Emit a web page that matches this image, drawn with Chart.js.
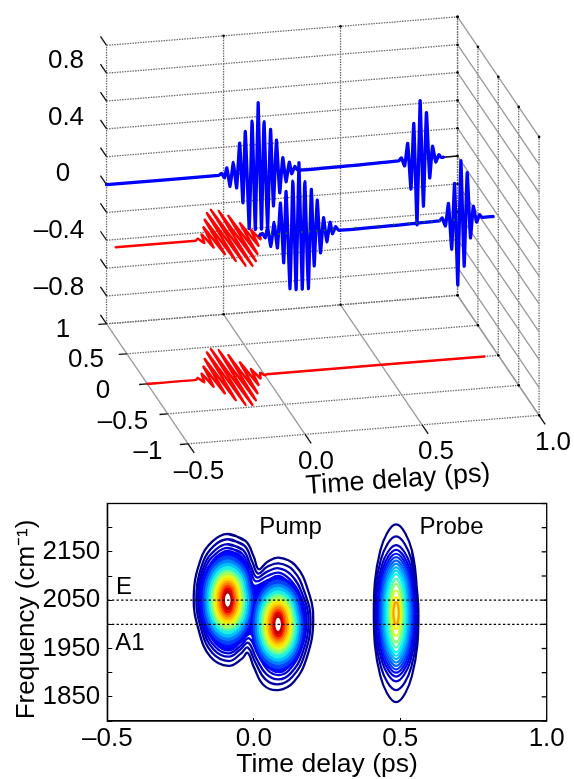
<!DOCTYPE html>
<html><head><meta charset="utf-8">
<style>html,body{margin:0;padding:0;background:#fff}canvas{display:block}</style>
<script src="https://cdn.jsdelivr.net/npm/chart.js@4"></script>
</head><body>
<canvas id="top" width="574" height="500"></canvas>
<canvas id="bottom" width="574" height="279"></canvas>
<script>
// ---------- upper panel: values ----------
const timeTicks = [-0.5, 0, 0.5, 1];
const depthTicks = [-1, -0.5, 0, 0.5, 1];
const ampTicks = [-1, -0.8, -0.6, -0.4, -0.2, 0, 0.2, 0.4, 0.6, 0.8, 1];
const pumpRedTime = [-0.292,-0.279,-0.265,-0.252,-0.239,-0.225,-0.212,-0.199,-0.186,-0.172,-0.159,-0.146,-0.133,-0.119,-0.106,-0.093,-0.080,-0.066,-0.053,-0.040,-0.027,-0.013,0.000,0.010];
const pumpRedDepth = [0,0.03,-0.05,0.09,-0.13,0.20,-0.25,0.32,-0.37,0.42,-0.46,0.47,-0.47,0.44,-0.40,0.35,-0.29,0.22,-0.16,0.10,-0.06,0.03,-0.015,0];
const pumpBlueTime = [-0.020,-0.008,0.004,0.014,0.028,0.042,0.056,0.069,0.083,0.093,0.110,0.122,0.136,0.148,0.162,0.173,0.188,0.201,0.213,0.226,0.240,0.253,0.267,0.281,0.291,0.305,0.318];
const pumpBlueAmp = [0,0.014,-0.02,0.05,-0.085,0.085,-0.10,0.22,-0.21,0.30,-0.40,0.37,-0.41,0.50,-0.41,0.36,-0.41,0.30,-0.25,0.22,-0.16,0.09,-0.085,0.055,-0.03,0.02,-0.01];
const probeTime = [0.748,0.760,0.774,0.787,0.801,0.813,0.827,0.840,0.854,0.867,0.881,0.893,0.907,0.920,0.930];
const probeAmp = [0,0.02,-0.04,0.12,-0.21,0.26,-0.47,0.42,-0.34,0.33,-0.14,0.085,-0.03,0.02,0];
const greenDotTime = [0.03,0.062,0.095,0.161,0.193,0.225,0.257,0.293,0.39,0.488,0.553,0.619,0.651,0.683,0.716,0.75,0.811];
const ampLabels = ['0.8','0.4','0','–0.4','–0.8'];
const depthLabels = ['1','0.5','0','–0.5','–1'];
const timeLabels = ['–0.5','0.0','0.5','1.0'];

// ---------- lower panel: contour vertices ----------
const timeAxisLabels = {'-0.5':'–0.5','0':'0.0','0.5':'0.5','1':'1.0'};
const freqAxisLabels = [1850,1950,2050,2150];
const modeLines = [2050,2000];
const lobeCentres = [[-0.089,2050],[0.083,2000]];
const probeCentre = [0.486,2023];
const mergedContours = [
[-.089,2187,-.029,2173,0,2140,.017,2114,.046,2129,.085,2138,.142,2122,.185,2071,.203,2009,.182,1933,.137,1881,.085,1864,.034,1874,0,1912,-.021,1941,-.040,1929,-.086,1914,-.148,1933,-.188,1988,-.205,2057,-.182,2133,-.142,2171],
[-.089,2176,-.032,2163,-.005,2129,.015,2105,.046,2119,.085,2126,.134,2112,.173,2067,.194,2009,.173,1936,.131,1891,.085,1876,.040,1886,.006,1920,-.021,1952,-.043,1940,-.085,1924,-.142,1941,-.179,1989,-.196,2057,-.173,2129,-.137,2162],
[-.089,2166,-.037,2154,-.009,2119,.011,2097,.046,2109,.085,2116,.128,2102,.165,2064,.187,2009,.166,1940,.125,1898,.085,1886,.043,1897,.009,1929,-.019,1962,-.046,1948,-.085,1933,-.137,1948,-.173,1991,-.190,2057,-.169,2122,-.131,2154],
[-.089,2158,-.041,2147,-.011,2111,.007,2089,.046,2100,.085,2107,.123,2093,.159,2060,.180,2009,.159,1943,.120,1905,.085,1895,.048,1905,.014,1938,-.016,1971,-.046,1955,-.085,1940,-.131,1953,-.168,1993,-.186,2057,-.164,2118,-.128,2147],
[-.089,2152,-.043,2141,-.014,2104,.002,2080,.046,2091,.085,2100,.118,2086,.154,2058,.174,2009,.155,1947,.116,1911,.085,1901,.051,1912,.016,1947,-.011,1980,-.046,1962,-.085,1946,-.128,1959,-.163,1995,-.182,2057,-.159,2113,-.125,2141]
];
const mergedColours = ['#00008c','#0000a4','#0000c0','#0000dc','#0000f0'];
const lobeContours = [
[.0911,0,.0644,69,0,98,-.0644,69,-.0911,0,-.0644,-69,0,-98,.0644,-69],
[.0843,0,.0596,64,0,91,-.0596,64,-.0843,0,-.0596,-64,0,-91,.0596,-64],
[.0775,0,.0548,59,0,83,-.0548,59,-.0775,0,-.0548,-59,0,-83,.0548,-59],
[.0706,0,.0499,54,0,76,-.0499,54,-.0706,0,-.0499,-54,0,-76,.0499,-54],
[.0638,0,.0451,49,0,69,-.0451,49,-.0638,0,-.0451,-49,0,-69,.0451,-49],
[.0570,0,.0403,44,0,62,-.0403,44,-.0570,0,-.0403,-44,0,-62,.0403,-44],
[.0513,0,.0363,40,0,57,-.0363,40,-.0513,0,-.0363,-40,0,-57,.0363,-40],
[.0456,0,.0322,36,0,51,-.0322,36,-.0456,0,-.0322,-36,0,-51,.0322,-36],
[.0399,0,.0282,33,0,46,-.0282,33,-.0399,0,-.0282,-33,0,-46,.0282,-33],
[.0342,0,.0242,28,0,40,-.0242,28,-.0342,0,-.0242,-28,0,-40,.0242,-28],
[.0285,0,.0202,25,0,35,-.0202,25,-.0285,0,-.0202,-25,0,-35,.0202,-25],
[.0228,0,.0161,21,0,30,-.0161,21,-.0228,0,-.0161,-21,0,-30,.0161,-21],
[.0171,0,.0121,18,0,25,-.0121,18,-.0171,0,-.0121,-18,0,-25,.0121,-18],
[.0114,0,.0081,13,0,19,-.0081,13,-.0114,0,-.0081,-13,0,-19,.0081,-13],
[.0068,0,.0048,8,0,12,-.0048,8,-.0068,0,-.0048,-8,0,-12,.0048,-8]
];
const lobeColours = ['#0008ff','#0040ff','#0080ff','#00c0ff','#20f0e0','#60ffa0','#a0ff60','#e0ff20','#ffe000','#ffb000','#ff8000','#ff4000','#ee0000','#b00000','#ffffff'];
const probeContours = [
[.0763,0,.0539,130,0,184,-.0539,130,-.0763,0,-.0539,-130,0,-184,.0539,-130],
[.0729,0,.0515,112,0,159,-.0515,112,-.0729,0,-.0515,-112,0,-159,.0515,-112],
[.0683,0,.0483,100,0,141,-.0483,100,-.0683,0,-.0483,-100,0,-141,.0483,-100],
[.0638,0,.0451,93,0,131,-.0451,93,-.0638,0,-.0451,-93,0,-131,.0451,-93],
[.0592,0,.0419,87,0,123,-.0419,87,-.0592,0,-.0419,-87,0,-123,.0419,-87],
[.0547,0,.0387,82,0,116,-.0387,82,-.0547,0,-.0387,-82,0,-116,.0387,-82],
[.0501,0,.0354,77,0,109,-.0354,77,-.0501,0,-.0354,-77,0,-109,.0354,-77],
[.0456,0,.0322,72,0,102,-.0322,72,-.0456,0,-.0322,-72,0,-102,.0322,-72],
[.0410,0,.0290,67,0,95,-.0290,67,-.0410,0,-.0290,-67,0,-95,.0290,-67],
[.0364,0,.0257,62,0,88,-.0257,62,-.0364,0,-.0257,-62,0,-88,.0257,-62],
[.0319,0,.0226,57,0,81,-.0226,57,-.0319,0,-.0226,-57,0,-81,.0226,-57],
[.0262,0,.0185,50,0,71,-.0185,50,-.0262,0,-.0185,-50,0,-71,.0185,-50],
[.0216,0,.0153,43,0,61,-.0153,43,-.0216,0,-.0153,-43,0,-61,.0153,-43],
[.0171,0,.0121,33,0,47,-.0121,33,-.0171,0,-.0121,-33,0,-47,.0121,-33],
[.0125,0,.0088,23,0,33,-.0088,23,-.0125,0,-.0088,-23,0,-33,.0088,-23],
[.0091,0,.0064,16,0,23,-.0064,16,-.0091,0,-.0064,-16,0,-23,.0064,-16]
];
const probeColours = ['#00008c','#0000a8','#0000c8','#0000e8','#0010ff','#0038ff','#0060ff','#0088ff','#00b0ff','#00d8ff','#10f8e8','#50ffb0','#90ff70','#d0ff30','#ffe800','#ff9c00'];

// ---------- oblique projection of the 3-D box ----------
const FONT = 'Liberation Sans, Arial, sans-serif';
const view = {ox:104, oy:325, tx:237.3, ty:19.3, dx:41.35, dy:61, ay:141.5};
function project(t, d, a){
  return {x:view.ox+(t+0.5)*view.tx+(1-d)*view.dx, y:view.oy-(t+0.5)*view.ty+(1-d)*view.dy-(a+1)*view.ay};
}
const topPaint = [];
function seg3(p, q, color, width, dash){
  topPaint.push({data:[project(...p),project(...q)],showLine:true,borderColor:color,borderWidth:width,borderDash:dash||[],pointRadius:0,clip:false});
}
const DOT = '#6e6e6e', SOLID = '#999999', dots=[1.5,1.1];
// back wall
timeTicks.forEach(t=>seg3([t,1,-1],[t,1,1],DOT,1.3,dots));
ampTicks.forEach(a=>seg3([-0.5,1,a],[1,1,a],DOT,1.3,dots));
// right wall
depthTicks.forEach(d=>seg3([1,d,-1],[1,d,1],DOT,1.3,dots));
ampTicks.forEach(a=>seg3([1,1,a],[1,-1,a],SOLID,1.3));
// floor
depthTicks.forEach(d=>seg3([-0.5,d,-1],[1,d,-1],DOT,1.3,dots));
timeTicks.forEach(t=>seg3([t,1,-1],[t,-1,-1],SOLID,1.3));
// axis tick marks
ampTicks.forEach(a=>seg3([-0.5,1,a],[-0.5,1.15,a],'#111',1.3));
depthTicks.forEach(d=>seg3([-0.5,d,-1],[-0.535,d,-1],'#111',1.3));
timeTicks.forEach(t=>seg3([t,-1,-1],[t,-1.15,-1],'#111',1.3));
// small black corner dots
const cornerDots=[];
timeTicks.slice(1).forEach(t=>{cornerDots.push(project(t,1,1),project(t,1,-1));});
ampTicks.forEach(a=>cornerDots.push(project(1,1,a)));
depthTicks.slice(0,4).forEach(d=>{cornerDots.push(project(1,d,1),project(1,d,-1));});
topPaint.push({data:cornerDots,showLine:false,pointRadius:1.3,pointBackgroundColor:'#000',pointBorderWidth:0,clip:false});
// black end of the back-wall zero line
seg3([0.94,1,0],[1,1,0],'#111',1.6);

function trace(times, depths, amps, color, width){
  topPaint.push({data:times.map((t,i)=>project(t,depths(i),amps(i))),showLine:true,borderColor:color,borderWidth:width,
    tension:0.12,borderJoinStyle:'round',borderCapStyle:'round',pointRadius:0,clip:false});
}
const backT=[-0.5,...pumpBlueTime,...probeTime,0.94], backA=[0,...pumpBlueAmp,...probeAmp,0];
trace(backT,()=>1,i=>backA[i],'#0000ff',3.3);
const midRedT=[-0.635,...pumpRedTime], midRedD=[0,...pumpRedDepth];
trace(midRedT,i=>midRedD[i],()=>0,'#ff0000',2.5);
const midT=[...pumpBlueTime,...probeTime,0.978], midA=[...pumpBlueAmp,...probeAmp,0];
trace(midT,()=>0,i=>midA[i],'#0000ff',3.3);
topPaint.push({data:greenDotTime.map(t=>project(t,0,0)),showLine:false,pointRadius:1,pointBackgroundColor:'#0a7a0a',pointBorderWidth:0,clip:false});
const floorT=[-0.5,...pumpRedTime,0.94], floorD=[0,...pumpRedDepth,0];
trace(floorT,i=>floorD[i],()=>-1,'#ff0000',2.5);

const topText = {id:'topText',afterDraw(c){
  const g=c.ctx; g.save(); g.fillStyle='#000'; g.textAlign='center'; g.textBaseline='middle'; g.font='26px '+FONT;
  const put=(s,x,y)=>g.fillText(s,x,y+1);
  ampLabels.forEach((s,i)=>put(s,[66,66,63,59,59][i],[60,117,173,230,287][i]));
  depthLabels.forEach((s,i)=>put(s,[63,86,103,123,148][i],[329,359,390,421,451][i]));
  timeLabels.forEach((s,i)=>put(s,[199,316,436,553][i],[471,461,451,442][i]));
  g.translate(398,480); g.rotate(-4*Math.PI/180); g.font='27px '+FONT; g.fillText('Time delay (ps)',0,0);
  g.restore();
}};
new Chart(document.getElementById('top'),{type:'scatter',
  data:{datasets:topPaint.slice().reverse()},
  plugins:[topText],
  options:{responsive:false,animation:false,events:[],layout:{padding:0},
    plugins:{legend:{display:false},tooltip:{enabled:false}},
    scales:{x:{type:'linear',min:0,max:574,display:false},y:{type:'linear',min:0,max:500,reverse:true,display:false}}}
});

// ---------- lower panel ----------
function loop(flat,c){
  const pts=[];const o=c||[0,0];
  for(let i=0;i<flat.length;i+=2)pts.push({x:o[0]+flat[i],y:o[1]+flat[i+1]});
  pts.push(pts[0],pts[1]);
  return pts;
}
const botPaint=[];
function contour(flat,c,color,tension,filled,width){
  const ds={data:loop(flat,c),showLine:true,borderColor:color,borderWidth:width,tension,pointRadius:0,borderJoinStyle:'round'};
  if(filled){ds.fill='shape';ds.backgroundColor=filled;}
  botPaint.push(ds);
}
mergedContours.forEach((f,i)=>contour(f,null,mergedColours[i],0.42,i===4?'#0000f0':null,2.3));
lobeCentres.forEach(c=>lobeContours.forEach((f,i)=>contour(f,c,lobeColours[i],0.38,lobeColours[i],1.6)));
probeContours.forEach((f,i)=>contour(f,probeCentre,probeColours[i],0.38,i===15?'#ffff80':null,2.2));
modeLines.forEach(v=>botPaint.push({data:[{x:-0.5,y:v},{x:1,y:v}],showLine:true,borderColor:'#000',borderWidth:1.3,borderDash:[2.4,2.2],pointRadius:0}));

const frame={id:'frame',afterDraw(c){
  const g=c.ctx,a=c.chartArea,y=c.scales.y; g.save(); g.strokeStyle='#000'; g.lineWidth=1.3;
  g.strokeRect(a.left,a.top,a.right-a.left,a.bottom-a.top);
  y.ticks.forEach(t=>{const p=y.getPixelForValue(t.value);g.beginPath();g.moveTo(a.right,p);g.lineTo(a.right-5,p);g.stroke();});
  g.fillStyle='#000'; g.textAlign='center'; g.textBaseline='middle'; g.font='24px '+FONT;
  g.fillText('Pump',290.5,27.5); g.fillText('Probe',451.5,27.5); g.fillText('E',124,87); g.fillText('A1',130,143.5);
  g.restore();
}};
new Chart(document.getElementById('bottom'),{type:'scatter',
  data:{datasets:botPaint.slice().reverse()},
  plugins:[frame],
  options:{responsive:false,animation:false,events:[],
    layout:{autoPadding:false,padding:{left:0,right:27.3,top:3.5,bottom:0}},
    plugins:{legend:{display:false},tooltip:{enabled:false}},
    scales:{
      x:{type:'linear',min:-0.5,max:1,
        afterFit(s){s.height=58;s.paddingLeft=0;s.paddingRight=0;},
        ticks:{stepSize:0.5,autoSkip:false,maxRotation:0,color:'#000',font:{family:FONT,size:26},padding:5,callback:v=>timeAxisLabels[String(v)]||''},
        grid:{drawOnChartArea:false,drawTicks:true,tickLength:-3,tickColor:'#000',tickWidth:1},
        border:{display:true,color:'#000',width:1.3},
        title:{display:true,text:'Time delay (ps)',color:'#000',font:{family:FONT,size:26.5,lineHeight:1.1},padding:{top:0,bottom:0}}},
      y:{type:'linear',min:1800,max:2250,
        afterFit(s){s.width=107.3;s.paddingTop=0;s.paddingBottom=0;},
        ticks:{stepSize:50,autoSkip:false,color:'#000',font:{family:FONT,size:26},padding:12,callback:v=>freqAxisLabels.includes(v)?String(v):''},
        grid:{drawOnChartArea:false,drawTicks:true,tickLength:-5,tickColor:'#000',tickWidth:1},
        border:{display:true,color:'#000',width:1.3},
        title:{display:true,text:'Frequency (cm⁻¹)  ',color:'#000',font:{family:FONT,size:26},padding:{top:11.5,bottom:0}}}
    }}
});
</script>
</body></html>
